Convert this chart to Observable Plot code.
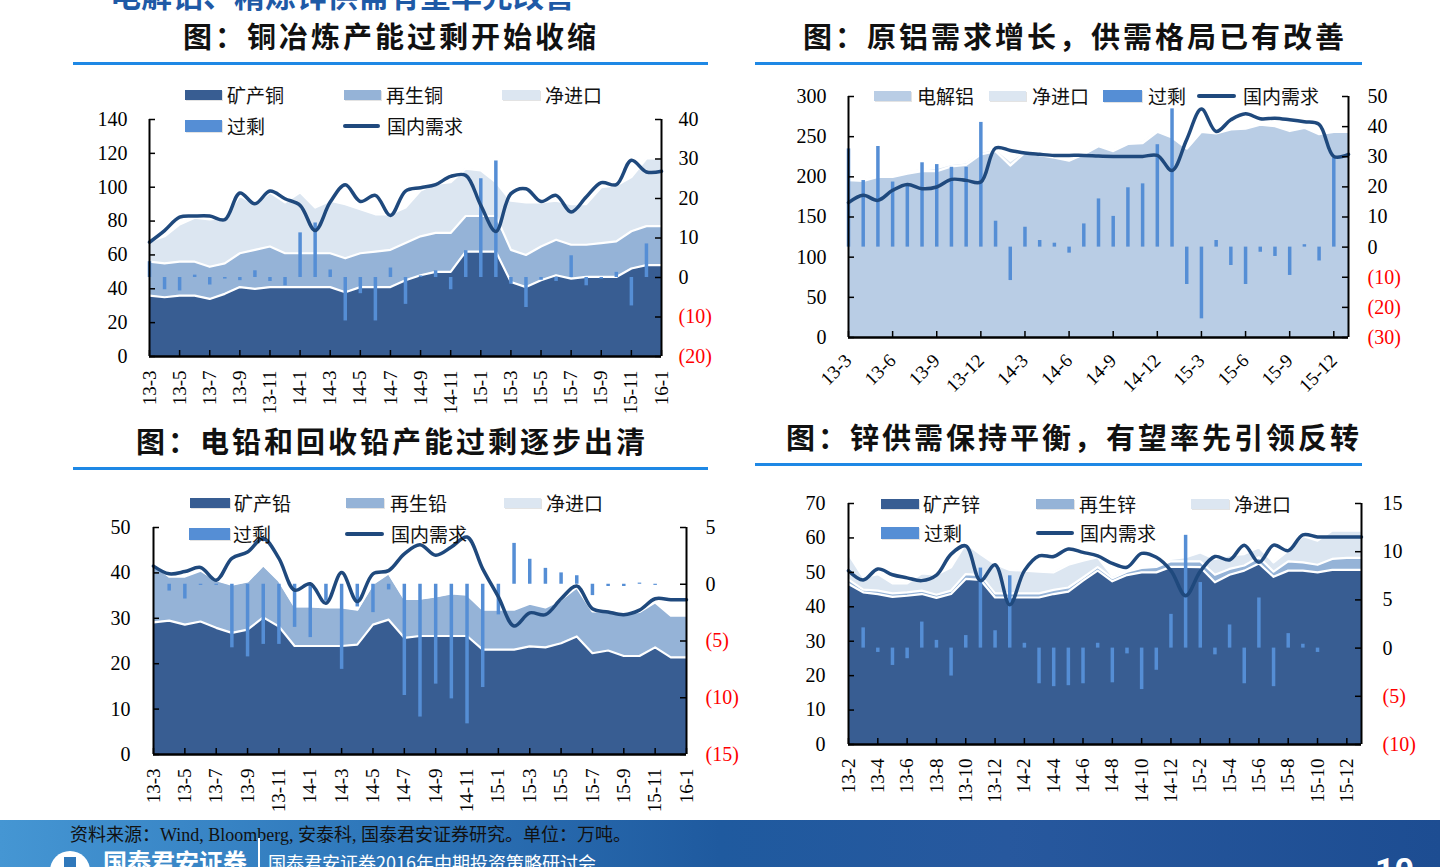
<!DOCTYPE html>
<html><head><meta charset="utf-8">
<script src="https://cdn.jsdelivr.net/npm/d3@7"></script>
<script src="https://cdn.jsdelivr.net/npm/@observablehq/plot@0.6"></script>
<style>
html,body{margin:0;padding:0;background:#fff;}
body{width:1440px;height:867px;position:relative;overflow:hidden;font-family:"Noto Sans CJK SC",sans-serif;}
.title{position:absolute;font-size:29px;font-weight:700;letter-spacing:3px;white-space:nowrap;transform:translateX(-50%);color:#111;line-height:1;}
.rule{position:absolute;height:3px;background:#1e88e5;}
.legtxt{position:absolute;font-size:19px;line-height:1;white-space:nowrap;color:#111;}
.sw{position:absolute;}
.panel{position:absolute;}
</style></head>
<body>
<script>
// ---------- DATA ----------
const cuMonths = ["13-3","13-4","13-5","13-6","13-7","13-8","13-9","13-10","13-11","13-12","14-1","14-2","14-3","14-4","14-5","14-6","14-7","14-8","14-9","14-10","14-11","14-12","15-1","15-2","15-3","15-4","15-5","15-6","15-7","15-8","15-9","15-10","15-11","15-12","16-1"];
const cuXTicks = ["13-3","13-5","13-7","13-9","13-11","14-1","14-3","14-5","14-7","14-9","14-11","15-1","15-3","15-5","15-7","15-9","15-11","16-1"];
const cuLayers = ["矿产铜","再生铜","净进口"];
const cuMine = [36,35,36,36,34,37,41,40,41,41,41,41,41,38,41,41,41,45,48,50,50,62,62,62,44,41,45,48,46,47,47,47,52,54,54];
const cuRecycled = [20,20,20,20,19,18,20,23,24,20,20,20,20,20,20,21,22,22,23,23,23,21,21,21,19,19,20,21,20,19,20,21,22,23,23];
const cuNetImport = [12,16,22,26,28,27,34,27,32,30,36,27,31,32,26,22,21,21,27,29,30,28,27,20,29,31,26,23,24,24,33,33,32,40,40];
const cuDemand = [67.5,74.4,82.3,83,83,80.8,96.6,90.2,97.7,93.2,89.3,74.4,91.2,101.5,91.6,95.2,83.3,97.7,99.7,101.5,106.4,107,89.3,73.9,96.2,99.1,91.6,95.2,85.3,94.2,102.7,101.5,115.9,109,109.4];
const cuSurplus = [4,-3.1,-3.4,0.6,-1.9,-0.4,-0.8,1.7,-1,-2.1,11.3,13.8,1.9,-11,-4.1,-11,2.4,-6.8,0.4,1.7,-3.1,6.8,25,29.5,-1.7,-7.6,-0.7,-1,5.5,-2.1,-0.4,1.3,-7.2,8.5,0];
const cuLeftTicks = [0,20,40,60,80,100,120,140];
const cuRightTicks = [-20,-10,0,10,20,30,40];

const alMonths = ["13-3","13-4","13-5","13-6","13-7","13-8","13-9","13-10","13-11","13-12","14-1","14-2","14-3","14-4","14-5","14-6","14-7","14-8","14-9","14-10","14-11","14-12","15-1","15-2","15-3","15-4","15-5","15-6","15-7","15-8","15-9","15-10","15-11","15-12","16-1"];
const alXTicks = ["13-3","13-6","13-9","13-12","14-3","14-6","14-9","14-12","15-3","15-6","15-9","15-12"];
const alLayers = ["电解铝","净进口"];
const alPrimary = [196,195,200,200,204,207,207,213,215,228,232,214,230,227,224,220,228,238,232,241,242,256,249,235,256,254,259,260,265,263,257,261,253,256,256];
const alNetImport = [2,1,1,1,2,2,4,3,3,3,3,6,2,1,1,1,1,1,1,1,1,1,1,1,1,1,1,1,1,1,1,1,1,1,1];
const alDemand = [167.8,177,170.7,183.2,190.6,185.2,187.3,196.8,195.6,193.5,235.8,232.9,229.6,228,226.7,226.7,226.7,225.9,225.4,225.4,225.4,226.7,208,246.6,284.3,256.5,271,278.5,272.3,273,271,268.5,265.2,225.4,228];
const alSurplus = [32.6,22.1,33.4,21.6,20.5,28,27.4,26.5,26.5,41.4,8.6,-11.1,6.6,2.2,1.3,-2,7.7,16,10.2,19.7,21,34,45.9,-12.4,-23.8,2.2,-6.1,-12.4,-1.7,-3.1,-9.4,0.8,-4.6,29.6,0];
const alLeftTicks = [0,50,100,150,200,250,300];
const alRightTicks = [-30,-20,-10,0,10,20,30,40,50];

const pbMonths = ["13-3","13-4","13-5","13-6","13-7","13-8","13-9","13-10","13-11","13-12","14-1","14-2","14-3","14-4","14-5","14-6","14-7","14-8","14-9","14-10","14-11","14-12","15-1","15-2","15-3","15-4","15-5","15-6","15-7","15-8","15-9","15-10","15-11","15-12","16-1"];
const pbXTicks = ["13-3","13-5","13-7","13-9","13-11","14-1","14-3","14-5","14-7","14-9","14-11","15-1","15-3","15-5","15-7","15-9","15-11","16-1"];
const pbLayers = ["矿产铅","再生铅","净进口"];
const pbMine = [29.1,29.5,28.6,29.3,27.9,26.8,27.5,30.2,28.2,23.9,23.9,23.9,23.9,24.2,28.6,29.7,25.7,26.1,26.1,26.1,26.1,23.1,23.1,23.1,23.8,23.6,24.5,26,22.3,22.9,21.7,21.7,23.6,21.4,21.4];
const pbRecycled = [12.8,9.7,10.6,11.2,10.5,10.6,10.6,11.5,10.1,8.7,8.7,8.5,8.5,7.7,9,10.2,8.6,8.2,8.7,9.4,9.1,8.8,8.8,8.8,9.4,8.8,9.6,10.8,9.2,8.5,9.3,9.7,9.9,9.2,9.2];
const pbNetImport = [0.5,0.3,0.2,0.2,0.1,0.1,0.1,0.1,0.1,0.1,0.1,0.1,0.1,0.1,0.1,0.1,0.1,0.1,0.1,0.1,0.1,0.1,0.1,0.2,0.3,0.4,0.3,0.2,0.2,0.2,0.2,0.2,0.2,0.2,0.2];
const pbDemand = [41.5,39.8,40.3,41.2,38.4,43.2,44.6,47.6,43.2,36.2,37.6,33.3,40.1,33.7,39.8,40.5,44.2,46.2,43.9,45.7,47.9,40.9,34.7,28.3,31.2,30.8,34.3,37.1,32.1,31.4,30.8,31.8,34.3,34.1,34.1];
const pbSurplus = [0,-0.6,-1.3,-0.1,-0.1,-5.6,-6.4,-5.3,-5.3,-3.8,-4.7,-1.5,-7.5,-2,-2.5,-0.5,-9.8,-11.7,-8.8,-10.1,-12.3,-9.1,-2.7,3.6,2.2,1.4,1,0.75,-1,-0.2,-0.2,0.1,-0.1,0,0];
const pbLeftTicks = [0,10,20,30,40,50];
const pbRightTicks = [-15,-10,-5,0,5];

const znMonths = ["13-2","13-3","13-4","13-5","13-6","13-7","13-8","13-9","13-10","13-11","13-12","14-1","14-2","14-3","14-4","14-5","14-6","14-7","14-8","14-9","14-10","14-11","14-12","15-1","15-2","15-3","15-4","15-5","15-6","15-7","15-8","15-9","15-10","15-11","15-12","16-1"];
const znXTicks = ["13-2","13-4","13-6","13-8","13-10","13-12","14-2","14-4","14-6","14-8","14-10","14-12","15-2","15-4","15-6","15-8","15-10","15-12"];
const znLayers = ["矿产锌","再生锌","净进口"];
const znMine = [46.6,44.2,43.7,42.9,43.2,43.7,42.6,43.7,48.1,47.8,42.7,42.7,42.7,42.7,43.7,44.4,47.6,50.5,47.4,49.2,50,50,51.6,51.6,51.5,47.1,49.3,50.5,52.6,48.7,50.5,50.5,50,50.7,50.7,50.7];
const znRecycled = [1.3,0.8,1,1,1,1,0.9,1,1.4,1.4,1.2,1.2,1.2,1.2,1.2,1.2,0.9,1,0.9,1,1.3,1.6,1.6,1.6,1.7,2.2,1.7,1.5,1.8,1.5,2.7,2.4,2.2,3.2,3.5,3.5];
const znNetImport = [7.4,3.6,4.8,2.9,2.6,5,5.8,6.8,8.9,6.1,8.5,6.8,6.6,6.3,5.1,6.6,4.9,2.9,0.7,0.5,0.2,0.4,0.7,1.2,2.6,4.6,4,3.3,2.9,2.7,3.1,7.7,7,8.2,7.9,7.9];
const znDemand = [50.5,47.8,51,49.3,48.4,47.6,49.2,55.3,57.7,47.6,52.2,40.6,50.5,54.8,54.6,56.8,55.8,54.8,52.6,51.5,55.5,54.4,50.5,43.2,50.3,54.6,53.6,57.9,52.9,57.9,56.3,60.9,60.3,60.3,60.3,60.3];
const znSurplus = [0,2.1,-0.45,-1.8,-1.1,2.7,0.8,-2.9,1.3,8.3,1.8,7.5,0.5,-3.7,-4,-3.9,-3.7,0.5,-3.6,-0.6,-4.3,-2.3,3.5,11.7,6.8,-0.7,2.4,-3.7,5.2,-4,1.5,0.4,-0.45,0,0,0];
const znLeftTicks = [0,10,20,30,40,50,60,70];
const znRightTicks = [-10,-5,0,5,10,15];

// ---------- STYLE ----------
const C_DARK = "#385d92", C_MID = "#95b3d7", C_LIGHT = "#dce6f1", C_AL = "#b9cde5", C_BAR = "#558ed5", C_LINE = "#1f497d";

function el(tag, cls, css, text){const e=document.createElement(tag); if(cls) e.className=cls; Object.assign(e.style, css||{}); if(text!=null) e.textContent=text; document.body.appendChild(e); return e;}

function panel(cfg){
  const {months, layers, colors, stacks, demand, surplus, leftDomain, rightDomain, leftTicks, rightTicks, xTicks, rotate, box, frame, padL, padR, padX, xFont} = cfg;
  const n = months.length;
  const long = [];
  layers.forEach((name,k)=>stacks[k].forEach((v,i)=>long.push({i, layer:name, v})));
  const dem = demand.map((v,i)=>({i,v}));
  const sur = surplus.map((v,i)=>({i,v})).filter(d=>d.v!==0);
  const r2l = d3.scaleLinear(rightDomain, leftDomain);
  const fmtR = v => {const r = Math.round(r2l.invert(v)); return r<0 ? `(${-r})` : `${r}`;};
  const W = box.w, H = box.h;
  const mL = frame.l-box.x, mR = box.x+W-frame.r, mT = frame.t-box.y, mB = box.y+H-frame.b;
  const pw = frame.r-frame.l, ph = frame.b-frame.t;
  const xt = xTicks.map(t=>months.indexOf(t));
  const rPos = rightTicks.filter(d=>d>=0).map(d=>r2l(d));
  const rNeg = rightTicks.filter(d=>d<0).map(d=>r2l(d));
  const svg = Plot.plot({
    width: W, height: H, marginLeft: mL, marginRight: mR, marginTop: mT, marginBottom: mB,
    style: {fontFamily: "'Liberation Serif','Times New Roman',serif", fontSize: "20px", background: "transparent", color: "#000", overflow: "visible"},
    x: {domain: [0, n-1], axis: null},
    y: {domain: leftDomain, axis: null},
    color: {domain: layers, range: colors},
    marks: [
      Plot.areaY(long, Plot.stackY({x:"i", y:"v", z:"layer", fill:"layer", order: layers})),
      Plot.lineY(long, Plot.stackY2({x:"i", y:"v", z:"layer", order: layers, stroke:"white", strokeWidth: 2.2})),
      Plot.ruleX(sur, {x:"i", y1: () => r2l(0), y2: d => r2l(d.v), stroke: C_BAR, strokeWidth: 3.5}),
      Plot.lineY(dem, {x:"i", y:"v", stroke: C_LINE, strokeWidth: 3.5, curve: "catmull-rom"}),
      Plot.ruleX([0, n-1], {stroke:"#000", strokeWidth: 2}),
      Plot.ruleY([leftDomain[0]], {stroke:"#000", strokeWidth: 2.5}),
      Plot.tickY(leftTicks, {y: d=>d, insetRight: pw-6, stroke:"#000", strokeWidth: 1.5}),
      Plot.tickY(rightTicks.map(d=>r2l(d)), {y: d=>d, insetLeft: pw-6, stroke:"#000", strokeWidth: 1.5}),
      Plot.tickX(xt, {x: d=>d, insetTop: ph-6, stroke:"#000", strokeWidth: 1.5}),
      Plot.axisY(leftTicks, {anchor:"left", tickSize:0, tickPadding: padL, fontSize: 20, label: null}),
      Plot.axisY(rPos, {anchor:"right", tickSize:0, tickPadding: padR, fontSize: 20, tickFormat: fmtR, label: null}),
      Plot.axisY(rNeg, {anchor:"right", tickSize:0, tickPadding: padR, fontSize: 20, tickFormat: fmtR, fill: "#ff0000", label: null}),
      Plot.axisX(xt, {anchor:"bottom", tickSize:0, tickRotate: rotate, tickPadding: padX, fontSize: xFont, tickFormat: i => months[i], label: null})
    ]
  });
  svg.classList.add("panel");
  Object.assign(svg.style, {left: box.x+"px", top: box.y+"px"});
  document.body.appendChild(svg);
}

function legend(items){
  items.forEach(it=>{
    if(it.kind==="rect") el("div","sw",{left:it.x+"px", top:(it.y-(it.h||10)/2)+"px", width:it.w+"px", height:(it.h||10)+"px", background:it.color, boxShadow:"1px 1px 0 #e3e3e3"});
    else el("div","sw",{left:it.x+"px", top:(it.y-2)+"px", width:it.w+"px", height:"4px", background:C_LINE, borderRadius:"2px"});
    el("div","legtxt",{left:it.tx+"px", top:(it.y-10)+"px"}, it.label);
  });
}

// ---------- PAGE ----------
// heading of the page, cut off at the top edge as in the original slide
el("div",null,{position:"absolute", left:"110px", top:"-22px", fontSize:"31px", lineHeight:"31px", fontWeight:"700", color:"#1f5aa6", whiteSpace:"nowrap"}, "电解铝、精炼锌供需有望率先改善");

el("div","title",{left:"391px", top:"21px"}, "图：铜冶炼产能过剩开始收缩");
el("div","rule",{left:"73px", top:"62px", width:"635px"});
el("div","title",{left:"1075px", top:"21px"}, "图：原铝需求增长，供需格局已有改善");
el("div","rule",{left:"755px", top:"62px", width:"607px"});
el("div","title",{left:"392px", top:"426px"}, "图：电铅和回收铅产能过剩逐步出清");
el("div","rule",{left:"73px", top:"467px", width:"635px"});
el("div","title",{left:"1074px", top:"422px"}, "图：锌供需保持平衡，有望率先引领反转");
el("div","rule",{left:"755px", top:"463px", width:"607px"});

panel({months: cuMonths, layers: cuLayers, colors:[C_DARK,C_MID,C_LIGHT], stacks:[cuMine,cuRecycled,cuNetImport],
  demand: cuDemand, surplus: cuSurplus, leftDomain:[0,140], rightDomain:[-20,40], leftTicks: cuLeftTicks, rightTicks: cuRightTicks,
  xTicks: cuXTicks, rotate:-90, box:{x:75,y:100,w:650,h:325}, frame:{l:149,r:661,t:119,b:356}, padL:22, padR:17, padX:14, xFont:19});
panel({months: alMonths, layers: alLayers, colors:[C_AL,C_LIGHT], stacks:[alPrimary,alNetImport],
  demand: alDemand, surplus: alSurplus, leftDomain:[0,300], rightDomain:[-30,50], leftTicks: alLeftTicks, rightTicks: alRightTicks,
  xTicks: alXTicks, rotate:-45, box:{x:780,y:80,w:640,h:330}, frame:{l:848,r:1348,t:96,b:337}, padL:22, padR:19, padX:20, xFont:19});
panel({months: pbMonths, layers: pbLayers, colors:[C_DARK,C_MID,C_LIGHT], stacks:[pbMine,pbRecycled,pbNetImport],
  demand: pbDemand, surplus: pbSurplus, leftDomain:[0,50], rightDomain:[-15,5], leftTicks: pbLeftTicks, rightTicks: pbRightTicks,
  xTicks: pbXTicks, rotate:-90, box:{x:75,y:505,w:675,h:310}, frame:{l:153,r:686,t:527,b:754}, padL:23, padR:19, padX:14, xFont:19});
panel({months: znMonths, layers: znLayers, colors:[C_DARK,C_MID,C_LIGHT], stacks:[znMine,znRecycled,znNetImport],
  demand: znDemand, surplus: znSurplus, leftDomain:[0,70], rightDomain:[-10,15], leftTicks: znLeftTicks, rightTicks: znRightTicks,
  xTicks: znXTicks, rotate:-90, box:{x:780,y:485,w:645,h:330}, frame:{l:848,r:1361,t:503,b:744}, padL:23, padR:21, padX:14, xFont:19});

legend([
  {kind:"rect", x:185, y:95, w:37, color:C_DARK, tx:227, label:"矿产铜"},
  {kind:"rect", x:344, y:95, w:37, color:C_MID, tx:386, label:"再生铜"},
  {kind:"rect", x:502, y:95, w:38, color:C_LIGHT, tx:545, label:"净进口"},
  {kind:"rect", x:185, y:126, w:37, h:12, color:C_BAR, tx:227, label:"过剩"},
  {kind:"line", x:343, y:126, w:37, tx:387, label:"国内需求"},
  {kind:"rect", x:874, y:96, w:37, color:C_AL, tx:917, label:"电解铝"},
  {kind:"rect", x:989, y:96, w:37, color:C_LIGHT, tx:1032, label:"净进口"},
  {kind:"rect", x:1103, y:96, w:39, h:12, color:C_BAR, tx:1148, label:"过剩"},
  {kind:"line", x:1197, y:96, w:39, tx:1243, label:"国内需求"},
  {kind:"rect", x:190, y:503, w:40, color:C_DARK, tx:234, label:"矿产铅"},
  {kind:"rect", x:346, y:503, w:38, color:C_MID, tx:390, label:"再生铅"},
  {kind:"rect", x:504, y:503, w:37, color:C_LIGHT, tx:546, label:"净进口"},
  {kind:"rect", x:189, y:534, w:41, h:12, color:C_BAR, tx:233, label:"过剩"},
  {kind:"line", x:345, y:534, w:39, tx:391, label:"国内需求"},
  {kind:"rect", x:881, y:504, w:38, color:C_DARK, tx:923, label:"矿产锌"},
  {kind:"rect", x:1036, y:504, w:38, color:C_MID, tx:1079, label:"再生锌"},
  {kind:"rect", x:1191, y:504, w:38, color:C_LIGHT, tx:1234, label:"净进口"},
  {kind:"rect", x:881, y:533, w:38, h:12, color:C_BAR, tx:924, label:"过剩"},
  {kind:"line", x:1036, y:533, w:38, tx:1080, label:"国内需求"}
]);

// footer band (cut off at the bottom edge as in the original slide)
el("div",null,{position:"absolute", left:"0px", top:"820px", width:"1440px", height:"47px", background:"linear-gradient(90deg,#4596d3 0%,#2f78bb 25%,#1f5a9f 50%,#27589e 70%,#1d4d92 100%)"});
el("div",null,{position:"absolute", left:"70px", top:"824px", fontSize:"18px", lineHeight:"22px", color:"#111", whiteSpace:"nowrap", fontFamily:"'Liberation Serif','Noto Sans CJK SC',serif"}, "资料来源：Wind, Bloomberg, 安泰科, 国泰君安证券研究。单位：万吨。");
el("div",null,{position:"absolute", left:"258px", top:"838px", width:"2px", height:"29px", background:"#fff"});
el("div",null,{position:"absolute", left:"50px", top:"851px", width:"40px", height:"40px", borderRadius:"50%", background:"#fff"});
el("div",null,{position:"absolute", left:"64px", top:"857px", width:"12px", height:"20px", background:"#2f78bb"});
el("div",null,{position:"absolute", left:"103px", top:"848px", fontSize:"24px", lineHeight:"26px", fontWeight:"700", color:"#fff", whiteSpace:"nowrap"}, "国泰君安证券");
el("div",null,{position:"absolute", left:"268px", top:"852px", fontSize:"18px", lineHeight:"20px", color:"#fff", whiteSpace:"nowrap"}, "国泰君安证券2016年中期投资策略研讨会");
el("div",null,{position:"absolute", left:"1375px", top:"853px", fontSize:"34px", lineHeight:"34px", fontWeight:"700", color:"#fff", fontFamily:"Roboto,sans-serif"}, "10");
</script>
</body></html>
